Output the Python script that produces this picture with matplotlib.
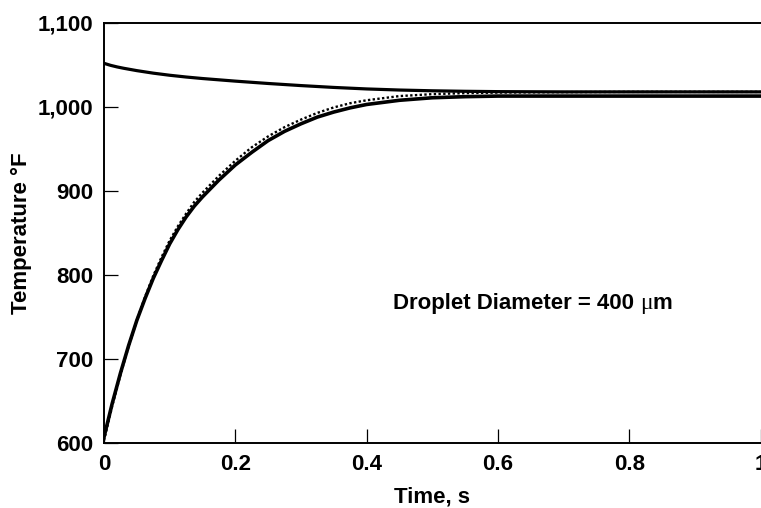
import matplotlib
matplotlib.use("Agg")
import matplotlib.pyplot as plt

# Time axis (s) and temperatures (°F) for a 400 µm droplet
time_gas = [0.0, 0.01, 0.02, 0.03, 0.05, 0.075, 0.1, 0.125, 0.15, 0.2, 0.25,
            0.3, 0.35, 0.4, 0.45, 0.5, 0.55, 0.6, 0.7, 0.8, 0.9, 1.0]
temp_gas = [1052, 1049.6, 1047.7, 1046.1, 1043.3, 1040.3, 1037.8, 1035.7,
            1033.9, 1030.8, 1028, 1025.5, 1023.3, 1021.5, 1020.2, 1019.3,
            1018.7, 1018.3, 1018, 1018, 1018, 1018]

time_drop = [0.0, 0.0125, 0.025, 0.0375, 0.05, 0.0625, 0.075, 0.0875, 0.1,
             0.1125, 0.125, 0.1375, 0.15, 0.175, 0.2, 0.225, 0.25, 0.275,
             0.3, 0.325, 0.35, 0.375, 0.4, 0.45, 0.5, 0.55, 0.6, 0.7, 0.8,
             0.9, 1.0]
temp_drop = [607, 647, 683, 716, 746, 772, 796, 817, 837,
             854, 869, 882, 893, 913, 931, 946, 960, 971,
             980, 988, 994, 999, 1003, 1008, 1011, 1012.3, 1013, 1013, 1013,
             1013, 1013]
temp_drop_alt = [603, 644, 681, 715, 746, 774, 799, 821, 841,
                 858, 873, 887, 898, 918, 936, 952, 965, 976,
                 985, 993, 999.5, 1004.5, 1008, 1013, 1015.3, 1016.5, 1017.2,
                 1017.7, 1018, 1018, 1018]

x_ticks = [0, 0.2, 0.4, 0.6, 0.8, 1.0]
x_tick_labels = ["0", "0.2", "0.4", "0.6", "0.8", "1"]
y_ticks = [600, 700, 800, 900, 1000, 1100]
y_tick_labels = ["600", "700", "800", "900", "1,000", "1,100"]

font = "Liberation Sans"
plt.rcParams["font.family"] = [font, "DejaVu Sans"]

fig = plt.figure(figsize=(7.61, 5.08), dpi=100)
ax = fig.add_axes([104 / 761, 65 / 508, (760.5 - 104) / 761, 420 / 508])

ax.plot(time_drop, temp_drop_alt, color="black", lw=1.7, linestyle=(0, (1, 1)),
        solid_capstyle="butt", zorder=2)
ax.plot(time_drop, temp_drop, color="black", lw=2.6, zorder=3,
        solid_joinstyle="round")
ax.plot(time_gas, temp_gas, color="black", lw=2.3, zorder=3,
        solid_joinstyle="round")

ax.set_xlim(0, 1)
ax.set_ylim(600, 1100)
ax.set_xticks(x_ticks)
ax.set_xticklabels(x_tick_labels)
ax.set_yticks(y_ticks)
ax.set_yticklabels(y_tick_labels)

for lab in ax.get_xticklabels() + ax.get_yticklabels():
    lab.set_fontweight("bold")
    lab.set_fontsize(16)

ax.tick_params(axis="both", direction="in", length=10, width=0.9,
               colors="black")
ax.tick_params(axis="x", pad=8)
ax.tick_params(axis="y", pad=8)

ax.spines["right"].set_visible(False)
for side in ("left", "bottom", "top"):
    ax.spines[side].set_linewidth(1.4)

ax.set_xlabel("Time, s", fontsize=16, fontweight="bold", labelpad=8)
ax.set_ylabel("Temperature °F", fontsize=16, fontweight="bold", labelpad=4)

# Annotation; the micro sign is set in a light serif face
t1 = ax.text(0.44, 760, "Droplet Diameter = 400 ", fontsize=16,
             fontweight="bold", va="baseline", ha="left")
t2 = ax.annotate("\u03bc", xy=(1, 0), xycoords=t1, va="bottom", ha="left",
                 fontsize=17, family="Liberation Serif")
ax.annotate("m", xy=(1, 0), xycoords=t2, va="bottom", ha="left",
            fontsize=16, fontweight="bold")

fig.savefig("out.png", dpi=100)
